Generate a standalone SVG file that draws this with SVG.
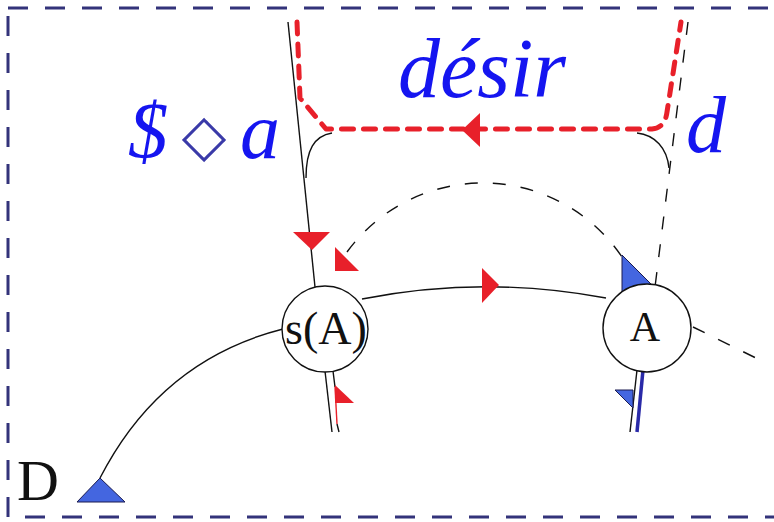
<svg xmlns="http://www.w3.org/2000/svg" width="774" height="522" viewBox="0 0 774 522">
<style>
.thin{fill:none;stroke:#111;stroke-width:1.4}
.dash{fill:none;stroke:#111;stroke-width:1.4;stroke-dasharray:13 15}
.red{fill:#e8202a}
.blu{fill:#4466e0;stroke:#1a1a50;stroke-width:1}
.node{fill:#fff;stroke:#111;stroke-width:1.4}
.lbl{font-family:"Liberation Serif","Times New Roman",serif;fill:#111}
.big{font-family:"Liberation Serif","Times New Roman",serif;font-style:italic;fill:#1515f0}
</style>
<rect x="8" y="8" width="800" height="509" fill="none" stroke="#33337a" stroke-width="3" stroke-dasharray="20 17"/>
<g id="connectors">
<!-- bracket corners -->
<path class="thin" d="M306,178 C306,150 314,136 332,133"/>
<path class="thin" d="M637,133 C655,135 667,148 669,168"/>
<!-- left vertical into s(A) -->
<path class="thin" d="M288,22 L315,287"/>
<!-- dashed vertical into A -->
<path class="dash" d="M688,22 L655,287"/>
<!-- red dashed desire path -->
<path d="M297,22 L300,98 L326,129 L652,129 Q665,128 667,112 L681,22" fill="none" stroke="#e8202a" stroke-width="5" stroke-linecap="round" stroke-linejoin="round" stroke-dasharray="12 10"/>
<polygon class="red" points="462,130 480,113 480,147"/>
<!-- dashed arc A to s(A) -->
<path class="dash" d="M347,252 A168,168 0 0 1 622,257"/>
<path class="dash" d="M693,327 L762,361"/>
<!-- solid arc s(A) to A -->
<path class="thin" d="M362,299 Q484,275 606,298"/>
<polygon class="red" points="482,268 499,285 482,303"/>
<!-- arc D to s(A) -->
<path class="thin" d="M100,478 C140,400 200,350 283,329"/>
<!-- lines below s(A) -->
<path class="thin" d="M325,371 L332,432"/>
<path class="thin" d="M333,371 L335,387 M337,424 L339,432"/>
<path d="M335,387 L337,424" fill="none" stroke="#e8202a" stroke-width="1.4"/>
<polygon class="red" points="335,385 335,403 354,403"/>
<!-- lines below A -->
<path class="thin" d="M637,370 L630,432"/>
<path d="M643,370 L637,432" fill="none" stroke="#2a2aa8" stroke-width="3.5"/>
<polygon class="blu" points="615,390 633,390 633,408"/>
<!-- arrows -->
<polygon class="red" points="293,232 330,232 312,250"/>
<polygon class="red" points="335,247 335,271 359,271"/>
<polygon class="blu" points="622,255 654,287 622,292"/>
</g>
<g id="node-sA">
<circle class="node" cx="325" cy="329" r="43"/>
<text class="lbl" x="326" y="344" font-size="46" text-anchor="middle">s(A)</text>
</g>
<g id="node-A">
<circle class="node" cx="647" cy="328" r="44"/>
<text class="lbl" x="645" y="341" font-size="42" text-anchor="middle">A</text>
</g>
<g id="node-D">
<polygon class="blu" points="77,502 100,478 125,502"/>
<text class="lbl" x="17" y="500" font-size="58">D</text>
</g>
<g id="labels">
<text class="big" x="398" y="97" font-size="84">désir</text>
<text class="big" x="128" y="158" font-size="80">$</text>
<text x="204" y="155" font-size="58" text-anchor="middle" font-family="DejaVu Sans,sans-serif" fill="#3a3aa8">◇</text>
<text class="big" x="240" y="158" font-size="80">a</text>
<text class="big" x="686" y="152" font-size="80">d</text>
</g>
</svg>
